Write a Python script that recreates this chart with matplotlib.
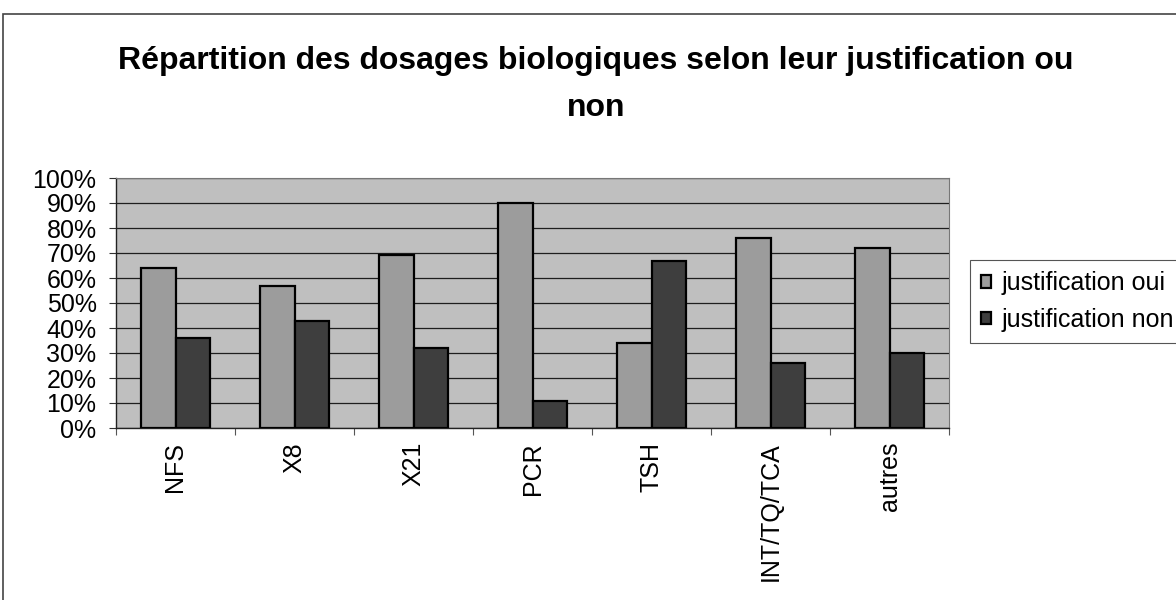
import numpy as np
import matplotlib
matplotlib.use("Agg")
import matplotlib.pyplot as plt
from matplotlib.patches import Rectangle
from matplotlib.ticker import PercentFormatter

plt.rcParams["font.family"] = ["Liberation Sans", "DejaVu Sans"]

categories = ["NFS", "X8", "X21", "PCR", "TSH", "INT/TQ/TCA", "autres"]
oui = [64, 57, 69, 90, 34, 76, 72]
non = [36, 43, 32, 11, 67, 26, 30]
series_names = ["justification oui", "justification non"]
title = "Répartition des dosages biologiques selon leur justification ou\nnon"

fig = plt.figure(figsize=(11.76, 6), dpi=100)
ax = fig.add_axes([116 / 1176, 1 - 428 / 600, (949 - 116) / 1176, 250 / 600])

x = np.arange(len(categories))
width = 0.29
ax.set_facecolor("#bfbfbf")
ax.bar(x - width / 2, oui, width=width, color="#9c9c9c", edgecolor="black",
       linewidth=1.6, label=series_names[0], zorder=3)
ax.bar(x + width / 2, non, width=width, color="#3e3e3e", edgecolor="black",
       linewidth=1.6, label=series_names[1], zorder=3)

ax.set_xlim(-0.5, len(categories) - 0.5)
ax.set_ylim(0, 100)
ax.set_yticks(np.arange(0, 101, 10))
ax.yaxis.set_major_formatter(PercentFormatter(decimals=0))
ax.yaxis.grid(True, color="#1e1e1e", linewidth=0.9, zorder=1)
ax.set_axisbelow(True)

# category labels at the centres, tick marks at the boundaries
ax.set_xticks(np.arange(len(categories) + 1) - 0.5)
ax.set_xticklabels([])
ax.set_xticks(x, minor=True)
ax.set_xticklabels(categories, minor=True, rotation=90)
ax.tick_params(axis="x", which="major", length=5, width=0.8, color="#555555")
ax.tick_params(axis="x", which="minor", length=0, pad=10, labelsize=18)
ax.tick_params(axis="y", length=5, width=0.8, pad=9, labelsize=18, color="#333333")

for side in ["top", "right"]:
    ax.spines[side].set_color("#777777")
    ax.spines[side].set_linewidth(0.8)
for side in ["left", "bottom"]:
    ax.spines[side].set_color("#222222")
    ax.spines[side].set_linewidth(1)

fig.text(0.507, 1 - 46 / 600, title, ha="center", va="top", fontsize=23,
         fontweight="bold", linespacing=1.75)

leg = fig.legend(loc="upper left", bbox_to_anchor=(970 / 1176, 1 - 260 / 600),
                 borderaxespad=0, fontsize=18, frameon=True, fancybox=False,
                 framealpha=1, edgecolor="#555555", handlelength=0.4,
                 handleheight=0.4, handletextpad=0.4, labelspacing=0.5,
                 borderpad=0.45)
leg.get_frame().set_linewidth(0.8)

# outer chart frame
fig.patches.append(Rectangle((3 / 1176, -0.05), 1.1, 1 - 14 / 600 + 0.05,
                             transform=fig.transFigure, fill=False,
                             edgecolor="#444444", linewidth=1.2, clip_on=False))

fig.savefig("out.png", dpi=100)
